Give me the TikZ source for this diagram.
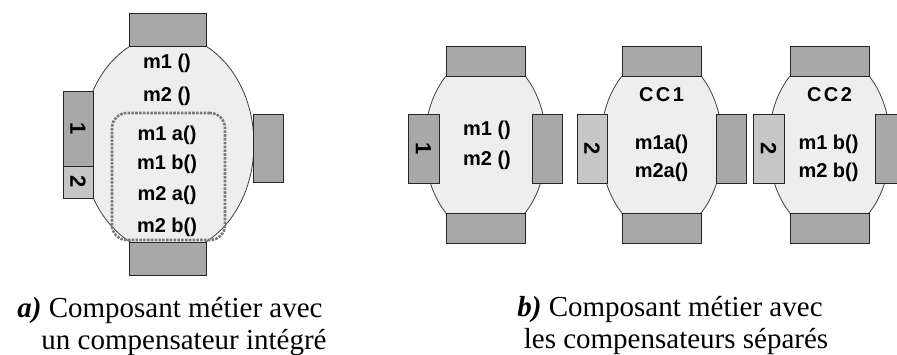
\documentclass[tikz,border=0pt]{standalone}
\usepackage{fontspec}
\setmainfont{Liberation Serif}
\setsansfont{Liberation Sans}
\definecolor{bodygray}{HTML}{EEEEEE}
\definecolor{portgray}{HTML}{A8A8A8}
\definecolor{portlight}{HTML}{C6C6C6}
\definecolor{dashgray}{HTML}{7A7A7A}
\begin{document}
\begin{tikzpicture}[x=1pt,y=-1pt,
  body/.style={fill=bodygray, draw=black!75, line width=0.8pt},
  port/.style={fill=portgray, draw=black!85, line width=1pt, inner sep=0pt, rectangle},
  portl/.style={port, fill=portlight},
  meth/.style={font=\sffamily\bfseries\fontsize{20}{20}\selectfont, inner sep=0pt},
  num/.style={font=\sffamily\bfseries\fontsize{22}{22}\selectfont, rotate=-90},
  captxt/.style={font=\fontsize{29}{29}\selectfont, anchor=base, inner sep=0pt},
  grp/.style={draw=dashgray, line width=2.6pt, dash pattern=on 2.6pt off 1.2pt, rounded corners=15pt}]
\useasboundingbox (0,0) rectangle (897,354);
\fill[white] (0,0) rectangle (897,354);

% ---------- a) integrated compensator ----------
\begin{scope}
  \clip (0,46) rectangle (897,242);
  \draw[body] (168,144) ellipse [x radius=86pt, y radius=109pt];
\end{scope}
\node[port, minimum width=77, minimum height=33] (aT) at (167.5,29.5) {};
\node[port, minimum width=77, minimum height=33] (aB) at (167.5,258.5) {};
\node[port, minimum width=30, minimum height=75] (aL1) at (78,128.5) {};
\node[num] (aL1t) at (aL1.center) {1};
\node[portl, minimum width=30, minimum height=32] (aL2) at (78,182) {};
\node[num] (aL2t) at (aL2.center) {2};
\node[port, minimum width=30, minimum height=68] (aR) at (268,148) {};
\node[grp, minimum width=113, minimum height=127] (aG) at (168.5,176.5) {};
\node[meth] (am1) at (167,63) {m1 ()};
\node[meth] (am2) at (167,96) {m2 ()};
\node[meth] (am1a) at (167,135) {m1 a()};
\node[meth] (am1b) at (167,164) {m1 b()};
\node[meth] (am2a) at (167,195) {m2 a()};
\node[meth] (am2b) at (167,227) {m2 b()};

% ---------- b) separate compensators ----------
\begin{scope}
  \clip (0,76) rectangle (897,213);
  \draw[body] (485.5,144.5) ellipse [x radius=61pt, y radius=90pt];
  \draw[body] (661.5,144.5) ellipse [x radius=61pt, y radius=90pt];
  \draw[body] (829.5,144.5) ellipse [x radius=61pt, y radius=90pt];
\end{scope}
% component
\node[port, minimum width=79, minimum height=30] (bT) at (485.5,61) {};
\node[port, minimum width=79, minimum height=30] (bB) at (485.5,228) {};
\node[port, minimum width=31, minimum height=69] (bL) at (423.5,148.5) {};
\node[num] (bLt) at (bL.center) {1};
\node[port, minimum width=30, minimum height=69] (bR) at (547,148.5) {};
\node[meth] (bm1) at (487,130) {m1 ()};
\node[meth] (bm2) at (487,160) {m2 ()};
% CC1
\node[port, minimum width=79, minimum height=30] (cT) at (661.5,61) {};
\node[port, minimum width=79, minimum height=30] (cB) at (661.5,228) {};
\node[portl, minimum width=30, minimum height=69] (cL) at (592,148.5) {};
\node[num] (cLt) at (cL.center) {2};
\node[port, minimum width=30, minimum height=69] (cR) at (731,148.5) {};
\node[meth] (cN) at (661.5,95) {\addfontfeature{LetterSpace=12}CC1};
\node[meth] (cm1) at (661.5,144) {m1a()};
\node[meth] (cm2) at (661.5,172) {m2a()};
% CC2
\node[port, minimum width=79, minimum height=30] (dT) at (829.5,61) {};
\node[port, minimum width=79, minimum height=30] (dB) at (829.5,228) {};
\node[portl, minimum width=31, minimum height=69] (dL) at (768.5,148.5) {};
\node[num] (dLt) at (dL.center) {2};
\node[port, minimum width=30, minimum height=69] (dR) at (890,148.5) {};
\node[meth] (dN) at (829.5,95) {\addfontfeature{LetterSpace=12}CC2};
\node[meth] (dm1) at (828.5,144) {m1 b()};
\node[meth] (dm2) at (828.5,172) {m2 b()};

% ---------- captions ----------
\node[captxt] (capa1) at (170,317) {\textbf{\textit{a)}} Composant métier avec};
\node[captxt] (capa2) at (184,349) {un compensateur intégré};
\node[captxt] (capb1) at (670,316) {\textbf{\textit{b)}} Composant métier avec};
\node[captxt] (capb2) at (676,348) {les compensateurs séparés};
\end{tikzpicture}
\end{document}
